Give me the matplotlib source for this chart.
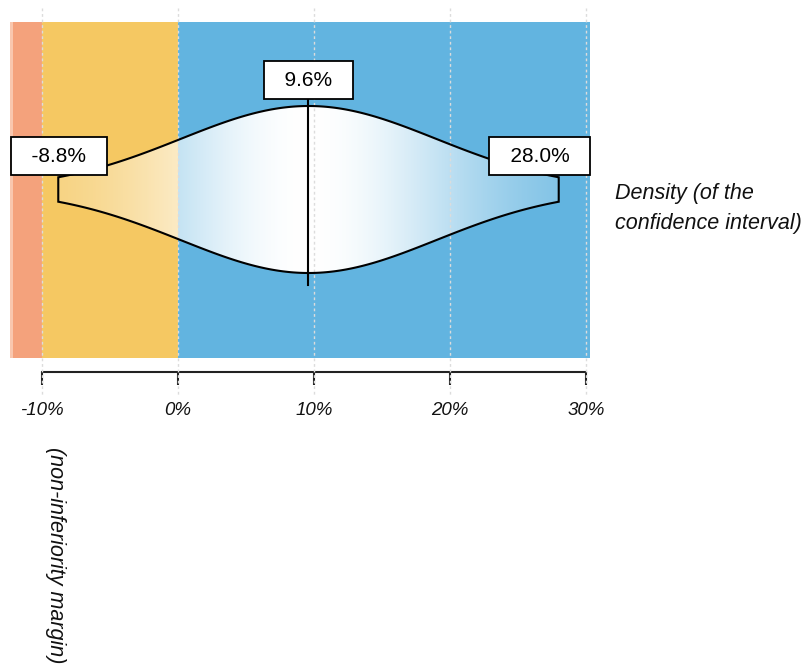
import numpy as np
import matplotlib
matplotlib.use('Agg')
import matplotlib.pyplot as plt
from matplotlib.patches import Polygon
import matplotlib.transforms as mtransforms

plt.rcParams['font.family'] = ['Liberation Sans', 'DejaVu Sans']

# ---- data ----
point_estimate = 9.6
ci_lower = -8.8
ci_upper = 28.0
margin = -10.0
zone_edges = [-12.35, -10.0, 0.0, 30.3]
zone_colors = ['#f4a27c', '#f5c862', '#62b4e0']
tick_values = [-10, 0, 10, 20, 30]
tick_labels = ['-10%', '0%', '10%', '20%', '30%']
lower_label = '-8.8%'
point_label = '9.6%'
upper_label = '28.0%'

W, H = 804, 667
fig = plt.figure(figsize=(W / 100, H / 100), dpi=100)
ax = fig.add_axes([10 / W, (H - 358) / H, 580 / W, 336 / H])

# background zones
for a, b, c in zip(zone_edges[:-1], zone_edges[1:], zone_colors):
    ax.axvspan(a, b, color=c, lw=0, zorder=0)
ax.axvspan(zone_edges[0], zone_edges[0] + 0.2, color='#f9c7ae', lw=0, zorder=0.1)

# density of the confidence interval (normal)
sigma = (ci_upper - ci_lower) / (2 * 1.959964)
xs = np.linspace(ci_lower, ci_upper, 600)
dens = np.exp(-0.5 * ((xs - point_estimate) / sigma) ** 2)
verts = np.concatenate([np.column_stack([xs, dens]),
                        np.column_stack([xs[::-1], -dens[::-1]])])
poly = Polygon(verts, closed=True, fill=False, edgecolor='black', lw=1.5, zorder=4)
ax.add_patch(poly)

# gradient fill
xg = np.linspace(ci_lower, ci_upper, 900)
alpha = 0.92 * (1 - np.exp(-0.5 * ((xg - point_estimate) / sigma) ** 2))
orange = np.array(matplotlib.colors.to_rgb(zone_colors[1]))
blue = np.array(matplotlib.colors.to_rgb(zone_colors[2]))
cols = np.where((xg < 0)[:, None], orange[None, :], blue[None, :])
rgb = 1 - alpha[:, None] * (1 - cols)
img = np.repeat(rgb[None, :, :], 2, axis=0)
im = ax.imshow(img, extent=[ci_lower, ci_upper, -1.05, 1.05], aspect='auto',
               origin='lower', interpolation='nearest', zorder=2)
clip = Polygon(verts, closed=True, transform=ax.transData)
im.set_clip_path(clip)

# point estimate line
ax.plot([point_estimate, point_estimate], [-1.14, 1.14], color='black', lw=1.5, zorder=4)

xmin, xmax = -12.35, 30.3
ax.set_xlim(xmin, xmax)
ax.set_ylim(-168.5 / 83.5, 167.5 / 83.5)

# grid lines (extend outside)
trans = mtransforms.blended_transform_factory(ax.transData, ax.transAxes)
for v in tick_values:
    ax.plot([v, v], [1.042, -0.11], transform=trans, color='#dcdcdc', lw=1,
            ls=(0, (2, 2)), clip_on=False, zorder=3)

# axis
for s in ['top', 'left', 'right']:
    ax.spines[s].set_visible(False)
ax.spines['bottom'].set_position(('outward', 10.1))
ax.spines['bottom'].set_bounds(tick_values[0], tick_values[-1])
ax.spines['bottom'].set_linewidth(1.5)
ax.spines['bottom'].set_color('#222222')
ax.set_xticks(tick_values)
ax.set_xticklabels(tick_labels, fontsize=13.5, style='italic', color='#111111')
ax.tick_params(axis='x', direction='out', length=9.4, width=1.5, color='#222222', pad=12.5)
ax.set_yticks([])

# value labels
bbox = dict(boxstyle='square,pad=0.45', fc='white', ec='black', lw=1.3)
y_end = 0.40
ax.annotate('  ' + lower_label + '  ', xy=(0, y_end), xycoords=('axes fraction', 'data'),
            xytext=(10, 0), textcoords='offset pixels', ha='left', va='center',
            fontsize=15, bbox=bbox, zorder=6)
ax.annotate('  ' + upper_label + '  ', xy=(1, y_end), xycoords=('axes fraction', 'data'),
            xytext=(-9, 0), textcoords='offset pixels', ha='right', va='center',
            fontsize=15, bbox=bbox, zorder=6)
ax.text(point_estimate, 1.31, '  ' + point_label + '  ', ha='center', va='center',
        fontsize=15, bbox=bbox, zorder=6)

# side texts
fig.text(615 / W, 1 - 193 / H, 'Density (of the', fontsize=15.5, style='italic',
         ha='left', va='center', color='#111111')
fig.text(615 / W, 1 - 223 / H, 'confidence interval)', fontsize=15.5, style='italic',
         ha='left', va='center', color='#111111')
fig.text(55 / W, 1 - 447 / H, '(non-inferiority margin)', fontsize=15.5, style='italic',
         rotation=-90, ha='center', va='top', color='#111111')

fig.savefig('out.png', dpi=100)
